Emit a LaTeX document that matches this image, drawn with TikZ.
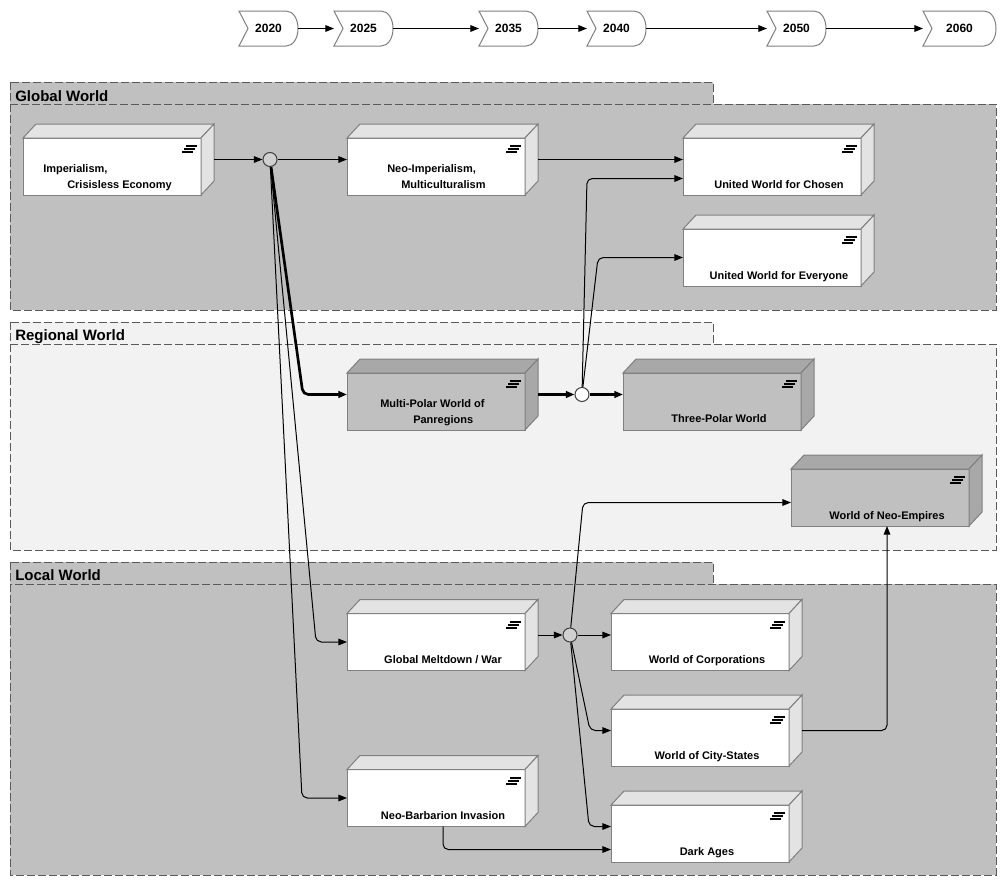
\documentclass[tikz,border=0pt]{standalone}
\usepackage{fontspec}
\setmainfont{Liberation Sans}
\usetikzlibrary{arrows.meta, calc, backgrounds}
\definecolor{grpdark}{HTML}{C0C0C0}
\definecolor{grplight}{HTML}{F2F2F2}
\definecolor{facelight}{HTML}{E3E3E3}
\definecolor{facedark}{HTML}{A8A8A8}
\definecolor{edge}{HTML}{808080}
\definecolor{dashgray}{HTML}{5A5A5A}
\definecolor{juncfill}{HTML}{D0D0D0}

\begin{document}
\begin{tikzpicture}[x=0.75pt, y=-0.75pt,
    scen/.style={rectangle, draw=edge, line width=0.75pt, minimum width=133.5pt, minimum height=42.75pt, inner sep=0pt, outer sep=0pt},
    year/.style={minimum width=44.25pt, minimum height=26.25pt, inner sep=0pt, outer sep=0pt, font=\fontsize{9}{11}\selectfont\bfseries},
    yearshape/.style={draw=edge, fill=white, line width=0.75pt},
    junc/.style={circle, draw=black!75, line width=0.75pt, minimum size=10.5pt, inner sep=0pt},
    group/.style={draw=dashgray, dash pattern=on 6pt off 2.25pt, line width=0.75pt},
    grouptitle/.style={anchor=base west, inner sep=0pt, font=\fontsize{11.25}{13}\selectfont\bfseries},
    txt/.style={inner sep=0pt, font=\fontsize{8.25}{10}\selectfont\bfseries},
    arrow/.style={-{Triangle[length=6.5pt, width=5pt]}, line width=0.75pt, rounded corners=4pt},
    bold arrow/.style={arrow, line width=2pt},
]
\useasboundingbox (0,0) rectangle (1006,885);

% timeline
\node[year] (y2020) at (268.5,28.5) {2020};
\node[year] (y2025) at (363.5,28.5) {2025};
\node[year] (y2035) at (508.5,28.5) {2035};
\node[year] (y2040) at (616.5,28.5) {2040};
\node[year] (y2050) at (796.5,28.5) {2050};
\node[year, minimum width=54.75pt] (y2060) at (959.5,28.5) {2060};

\draw[arrow] (y2020.east) -- (y2025.west);
\draw[arrow] (y2025.east) -- (y2035.west);
\draw[arrow] (y2035.east) -- (y2040.west);
\draw[arrow] (y2040.east) -- (y2050.west);
\draw[arrow] (y2050.east) -- (y2060.west);

% world groups
\begin{scope}[on background layer]
    \draw[group, fill=grpdark] (10,82) rectangle (713,104);
    \draw[group, fill=grpdark] (10,104) rectangle (996,310);
    \draw[group, fill=grplight] (10,322) rectangle (713,344);
    \draw[group, fill=grplight] (10,344) rectangle (996,550);
    \draw[group, fill=grpdark] (10,562) rectangle (713,584);
    \draw[group, fill=grpdark] (10,584) rectangle (996,875);
    \foreach \y in {2020, 2025, 2035, 2040, 2050, 2060}
        \draw[yearshape] (y\y.north west) -- ($(y\y.west)+(9,0)$) -- (y\y.south west)
            -- ($(y\y.south east)+(-12,0)$) .. controls ($(y\y.south east)+(-5,0)$) and ($(y\y.east)+(0,10)$) .. (y\y.east)
            .. controls ($(y\y.east)+(0,-10)$) and ($(y\y.north east)+(-5,0)$) .. ($(y\y.north east)+(-12,0)$) -- cycle;
\end{scope}
\node[grouptitle] (global) at (15,101) {Global World};
\node[grouptitle] (regional) at (15,340) {Regional World};
\node[grouptitle] (local) at (15,580) {Local World};

% scenarios
\node[scen, fill=white] (imp) at (112,166.5) {};
\node[scen, fill=white] (neoimp) at (436,166.5) {};
\node[scen, fill=white] (chosen) at (772,166.5) {};
\node[scen, fill=white] (everyone) at (772,257.5) {};
\node[scen, fill=grpdark] (multipolar) at (436,401.5) {};
\node[scen, fill=grpdark] (threepolar) at (712,401.5) {};
\node[scen, fill=grpdark] (empires) at (880,497.5) {};
\node[scen, fill=white] (meltdown) at (436,642) {};
\node[scen, fill=white] (corp) at (700,642) {};
\node[scen, fill=white] (city) at (700,737.5) {};
\node[scen, fill=white] (barb) at (436,798) {};
\node[scen, fill=white] (dark) at (700,833.5) {};

\foreach \n/\c in {imp/facelight, neoimp/facelight, chosen/facelight, everyone/facelight,
        multipolar/facedark, threepolar/facedark, empires/facedark,
        meltdown/facelight, corp/facelight, city/facelight, barb/facelight, dark/facelight} {
    \draw[draw=edge, fill=\c, line width=0.75pt] (\n.north west) -- ++(13,-14)
        -- ($(\n.north east)+(13,-14)$) -- (\n.north east) -- cycle;
    \draw[draw=edge, fill=\c, line width=0.75pt] (\n.north east) -- ++(13,-14)
        -- ($(\n.south east)+(13,-14)$) -- (\n.south east) -- cycle;
    \draw[line width=1.5pt] ($(\n.north east)+(-15,8)$) -- ++(11,0)
        ($(\n.north east)+(-17,11)$) -- ++(11,0)
        ($(\n.north east)+(-19,14)$) -- ++(11,0);
}

\node[txt, anchor=base west] (imp-a) at (43,172) {Imperialism,};
\node[txt, anchor=base west] (imp-b) at (67,188) {Crisisless Economy};
\node[txt, anchor=base west] (neoimp-a) at (387,172) {Neo-Imperialism,};
\node[txt, anchor=base west] (neoimp-b) at (401,188) {Multiculturalism};
\node[txt, anchor=base] (chosen-t) at (779,188) {United World for Chosen};
\node[txt, anchor=base] (everyone-t) at (779,279) {United World for Everyone};
\node[txt, anchor=base west] (multipolar-a) at (380,407) {Multi-Polar World of};
\node[txt, anchor=base west] (multipolar-b) at (413,423) {Panregions};
\node[txt, anchor=base] (threepolar-t) at (719,422) {Three-Polar World};
\node[txt, anchor=base] (empires-t) at (887,519) {World of Neo-Empires};
\node[txt, anchor=base] (meltdown-t) at (443,663) {Global Meltdown / War};
\node[txt, anchor=base] (corp-t) at (707,663) {World of Corporations};
\node[txt, anchor=base] (city-t) at (707,759) {World of City-States};
\node[txt, anchor=base] (barb-t) at (443,819) {Neo-Barbarion Invasion};
\node[txt, anchor=base] (dark-t) at (707,855) {Dark Ages};

% junctions
\node[junc, fill=juncfill] (j1) at (270,159.5) {};
\node[junc, fill=white] (j2) at (582,394.5) {};
\node[junc, fill=juncfill] (j3) at (570,635) {};

% paths
\draw[arrow] ($(imp.east)+(13,-7)$) -- (j1);
\draw[arrow] (j1) -- ($(neoimp.west)+(0,-7)$);
\draw[bold arrow] (j1) -- ($(multipolar.west)+(-44,-7)$) -- ($(multipolar.west)+(0,-7)$);
\draw[arrow] (j1) -- ($(meltdown.west)+(-31,0)$) -- (meltdown.west);
\draw[arrow] (j1) -- ($(barb.west)+(-45,0)$) -- (barb.west);
\draw[arrow] ($(neoimp.east)+(13,-7)$) -- ($(chosen.west)+(0,-7)$);
\draw[bold arrow] ($(multipolar.east)+(13,-7)$) -- (j2);
\draw[bold arrow] (j2) -- ($(threepolar.west)+(0,-7)$);
\draw[arrow] (j2) -- ($(chosen.west)+(-96,12)$) -- ($(chosen.west)+(0,12)$);
\draw[arrow] (j2) -- ($(everyone.west)+(-85,0)$) -- (everyone.west);
\draw[arrow] ($(meltdown.east)+(13,-7)$) -- (j3);
\draw[arrow] (j3) -- ($(corp.west)+(0,-7)$);
\draw[arrow] (j3) -- ($(city.west)+(-21,-7)$) -- ($(city.west)+(0,-7)$);
\draw[arrow] (j3) -- ($(dark.west)+(-22,-7)$) -- ($(dark.west)+(0,-7)$);
\draw[arrow] (j3) -- ($(empires.west)+(-208,5)$) -- ($(empires.west)+(0,5)$);
\draw[arrow] ($(city.east)+(13,-7)$) -| ($(empires.south)+(7,0)$);
\draw[arrow] ($(barb.south)+(7,0)$) |- ($(dark.west)+(0,16)$);

\end{tikzpicture}
\end{document}
